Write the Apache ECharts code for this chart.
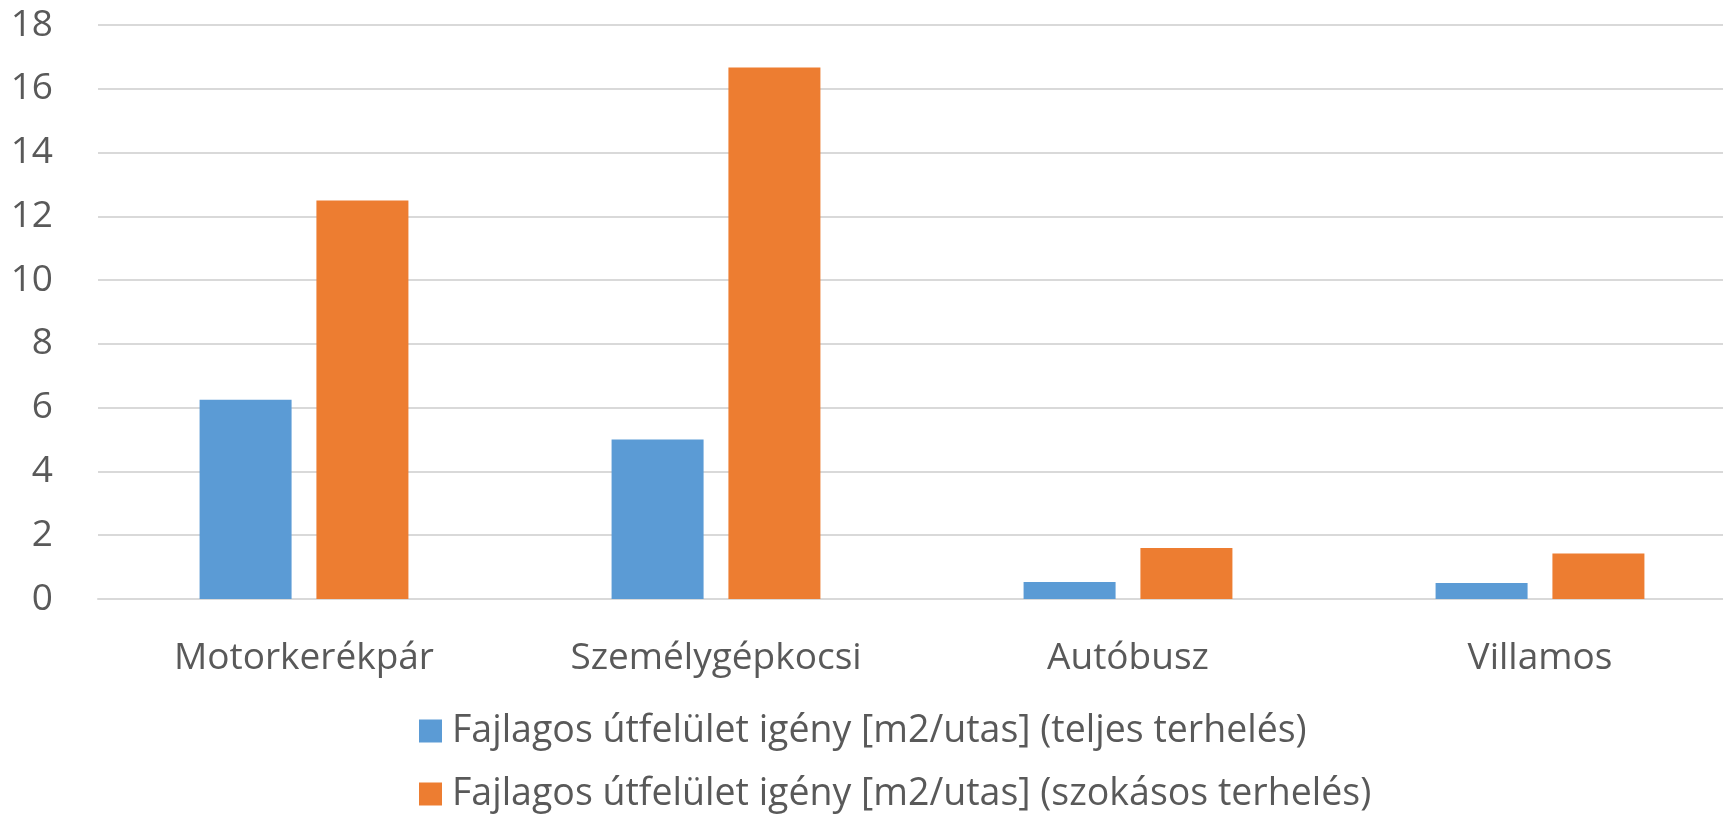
<!DOCTYPE html>
<html>
<head>
<meta charset="utf-8">
<script src="https://cdn.jsdelivr.net/npm/echarts@6/dist/echarts.min.js"></script>
<style>html,body{margin:0;padding:0;background:#fff;overflow:hidden;width:1723px;height:818px;}#c{width:1760px;height:818px;}</style>
</head>
<body>
<div id="c"></div>
<script>
const categories = ['Motorkerékpár', 'Személygépkocsi', 'Autóbusz', 'Villamos'];
const seriesNames = [
  'Fajlagos útfelület igény [m2/utas] (teljes terhelés)',
  'Fajlagos útfelület igény [m2/utas] (szokásos terhelés)'
];
const fullLoad = [6.25, 5.0, 0.53, 0.5];
const usualLoad = [12.5, 16.67, 1.6, 1.43];
const colors = ['#5B9BD5', '#ED7D31'];

const FONT = '"Open Sans", sans-serif';
const chart = echarts.init(document.getElementById('c'));
chart.setOption({
  animation: false,
  textStyle: { fontFamily: FONT },
  grid: { left: 98, top: 25, width: 1648, height: 574, containLabel: false },
  legend: {
    orient: 'vertical',
    left: 419,
    top: 711,
    padding: 0,
    height: 110,
    itemWidth: 23,
    itemHeight: 23,
    itemGap: 23,
    icon: 'rect',
    textStyle: { fontSize: 37.5, color: '#595959', fontFamily: FONT, lineHeight: 40, padding: [0, 0, 0, 5] },
    data: seriesNames
  },
  xAxis: {
    type: 'category',
    data: categories,
    axisLine: { lineStyle: { color: '#D9D9D9', width: 2 } },
    axisTick: { show: false },
    axisLabel: { fontSize: 37, color: '#595959', margin: 41, fontFamily: FONT }
  },
  yAxis: {
    type: 'value',
    min: 0, max: 18, interval: 2,
    axisLine: { show: false },
    axisTick: { show: false },
    splitLine: { lineStyle: { color: '#D9D9D9', width: 2 } },
    axisLabel: { fontSize: 37, color: '#595959', margin: 45, fontFamily: FONT }
  },
  series: [
    { name: seriesNames[0], type: 'bar', data: fullLoad, barWidth: 92, barGap: '27%', itemStyle: { color: colors[0] } },
    { name: seriesNames[1], type: 'bar', data: usualLoad, barWidth: 92, barGap: '27%', itemStyle: { color: colors[1] } }
  ]
});
</script>
</body>
</html>
